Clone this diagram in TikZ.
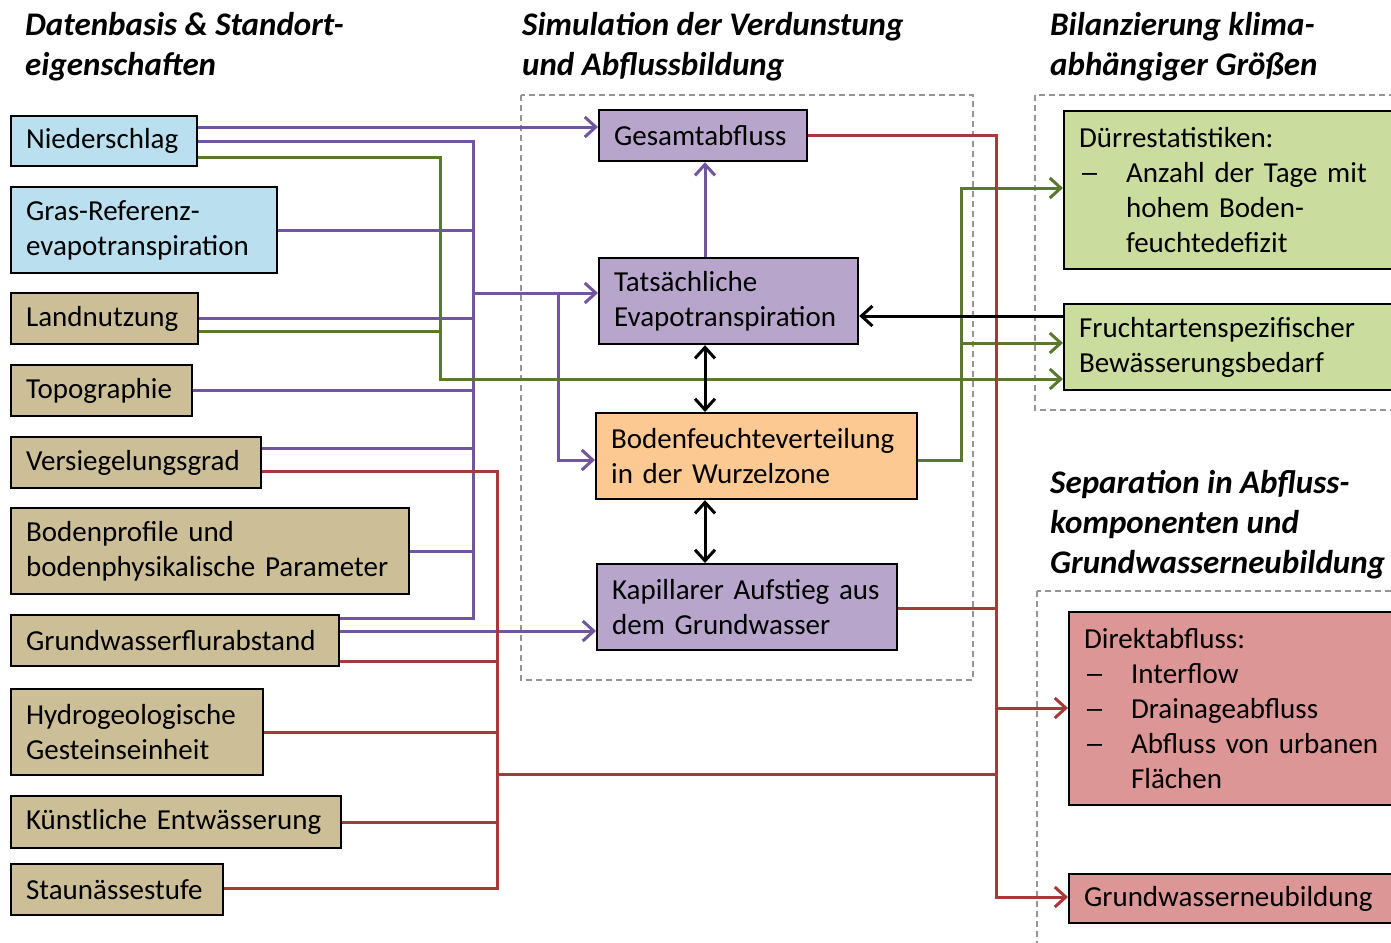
\documentclass[tikz,border=0pt]{standalone}
\usepackage{fontspec}
\usepackage{graphicx}
\setmainfont{Carlito}
\usetikzlibrary{arrows.meta}
\definecolor{cblue}{HTML}{BADFEE}
\definecolor{ctan}{HTML}{CCBF98}
\definecolor{cpurpf}{HTML}{B7A5CB}
\definecolor{corange}{HTML}{FDC993}
\definecolor{cgreenf}{HTML}{CADD9E}
\definecolor{cpinkf}{HTML}{DB9695}
\definecolor{cpurp}{HTML}{6F569E}
\definecolor{cgreen}{HTML}{5A782E}
\definecolor{cred}{HTML}{A53A3A}
\newcommand\nb[1]{\mbox{#1}}
\newcommand\dsh{\makebox[47pt][l]{\scalebox{1.45}[1]{–}}}
\begin{document}
\begin{tikzpicture}[x=1pt,y=-1pt,
  box/.style={draw=black, line width=2.2pt, inner xsep=15pt, inner ysep=0pt, align=left, anchor=north west, font=\fontsize{29}{35}\selectfont},
  head/.style={anchor=north west, inner sep=0pt, align=left, font=\fontsize{33}{40}\selectfont\bfseries\itshape},
  dashframe/.style={draw=black!42, dash pattern=on 6pt off 4pt, line width=1.5pt},
  pl/.style={draw=cpurp, line width=3pt},
  gl/.style={draw=cgreen, line width=3pt},
  rl/.style={draw=cred, line width=3pt},
  bl/.style={draw=black, line width=3pt},
  arr/.style={-{Straight Barb[length=11pt,width=20pt]}},
  darr/.style={{Straight Barb[length=11pt,width=20pt]}-{Straight Barb[length=11pt,width=20pt]}},
]
\clip (0,0) rectangle (1391,942);
\fill[white] (0,0) rectangle (1391,942);

% dashed frames
\draw[dashframe] (521,95) rectangle (973,680);
\draw[dashframe] (1035,95) rectangle (1430,410);
\draw[dashframe] (1037,591) rectangle (1430,970);

% headings
\node[head] (h1) at (25,12) {Datenbasis \& Standort-\\eigenschaften};
\node[head] (h2) at (522,12) {Simulation der Verdunstung\\und Abflussbildung};
\node[head] (h3) at (1050,12) {Bilanzierung klima-\\abhängiger Größen};
\node[head] (h4) at (1050,470) {Separation in Abfluss-\\komponenten und\\Grundwasserneubildung};

% left inputs
\node[box, fill=cblue, text width=156pt, minimum height=50pt] (nied) at (10,115) {\nb{Niederschlag}};
\node[box, fill=cblue, text width=236pt, minimum height=86pt] (gras) at (10,186) {\nb{Gras-Referenz-}\\\nb{evapotranspiration}};
\node[box, fill=ctan, text width=157pt, minimum height=51pt] (land) at (10,292) {\nb{Landnutzung}};
\node[box, fill=ctan, text width=151pt, minimum height=51pt] (topo) at (10,364) {\nb{Topographie}};
\node[box, fill=ctan, text width=220pt, minimum height=51pt] (vers) at (10,436) {\nb{Versiegelungsgrad}};
\node[box, fill=ctan, text width=368pt, minimum height=86pt] (bode) at (10,507) {\nb{Bodenprofile und}\\\nb{bodenphysikalische Parameter}};
\node[box, fill=ctan, text width=298pt, minimum height=51pt] (gwfa) at (10,614) {\nb{Grundwasserflurabstand}};
\node[box, fill=ctan, text width=222pt, minimum height=86pt] (hydr) at (10,688) {\nb{Hydrogeologische}\\\nb{Gesteinseinheit}};
\node[box, fill=ctan, text width=300pt, minimum height=52pt] (kuen) at (10,795) {\nb{Künstliche Entwässerung}};
\node[box, fill=ctan, text width=182pt, minimum height=51pt] (stau) at (10,863) {\nb{Staunässestufe}};

% simulation
\node[box, fill=cpurpf, text width=178pt, minimum height=51pt] (ges) at (598,109) {\nb{Gesamtabfluss}};
\node[box, fill=cpurpf, text width=229pt, minimum height=86pt] (tats) at (598,257) {\nb{Tatsächliche}\\\nb{Evapotranspiration}};
\node[box, fill=corange, text width=291pt, minimum height=86pt] (bofe) at (595,412) {\nb{Bodenfeuchteverteilung}\\\nb{in der Wurzelzone}};
\node[box, fill=cpurpf, text width=270pt, minimum height=86pt] (kapi) at (596,563) {\nb{Kapillarer Aufstieg aus}\\\nb{dem Grundwasser}};

% balance
\node[box, fill=cgreenf, text width=340pt, minimum height=158pt] (duer) at (1063,110) {\nb{Dürrestatistiken:}\\\nb{\dsh Anzahl der Tage mit}\\\nb{\hspace*{47pt}hohem Boden-}\\\nb{\hspace*{47pt}feuchtedefizit}};
\node[box, fill=cgreenf, text width=340pt, minimum height=86pt] (frucht) at (1063,303) {\nb{Fruchtartenspezifischer}\\\nb{Bewässerungsbedarf}};

% separation
\node[box, fill=cpinkf, text width=340pt, minimum height=193pt] (direkt) at (1068,611) {\nb{Direktabfluss:}\\\nb{\dsh Interflow}\\\nb{\dsh Drainageabfluss}\\\nb{\dsh Abfluss von urbanen}\\\nb{\hspace*{47pt}Flächen}};
\node[box, fill=cpinkf, text width=340pt, minimum height=49pt] (gwn) at (1068,873) {\nb{Grundwasserneubildung}};

% bus x positions
\coordinate (xp) at (473,0);
\coordinate (xq) at (558,0);
\coordinate (xg) at (440,0);
\coordinate (xc) at (705,0);
\coordinate (xg2) at (961,0);
\coordinate (xr) at (497,0);
\coordinate (xr2) at (996,0);

% purple connectors
\draw[pl,arr] (nied.east |- 0,127) -- (ges.west |- 0,127);
\draw[pl] (nied.east |- 0,141) -- (xp |- 0,141) -- (xp |- 0,618) -- (gwfa.east |- 0,618);
\draw[pl] (gras.east) -- (gras.east -| xp);
\draw[pl] (land.east |- 0,318) -- (xp |- 0,318);
\draw[pl] (topo.east) -- (topo.east -| xp);
\draw[pl] (vers.east |- 0,448) -- (xp |- 0,448);
\draw[pl] (bode.east) -- (bode.east -| xp);
\draw[pl,arr] (xp |- 0,293) -- (tats.west |- 0,293);
\draw[pl,arr] (xq |- 0,293) |- (bofe.west |- 0,460);
\draw[pl,arr] (gwfa.east |- 0,631) -- (kapi.west |- 0,631);
\draw[pl,arr] (tats.north -| xc) -- (ges.south -| xc);

% green connectors
\draw[gl,arr] (nied.east |- 0,157) -| (xg |- 0,379) -- (frucht.west |- 0,379);
\draw[gl] (land.east |- 0,331) -- (xg |- 0,331);
\draw[gl,arr] (bofe.east |- 0,460) -| (xg2 |- 0,188) -- (duer.west |- 0,188);
\draw[gl,arr] (xg2 |- 0,343) -- (frucht.west |- 0,343);

% red connectors
\draw[rl,arr] (ges.east) -| (xr2 |- 0,897) -- (gwn.west |- 0,897);
\draw[rl,arr] (xr2 |- 0,708) -- (direkt.west |- 0,708);
\draw[rl] (kapi.east |- 0,608) -- (xr2 |- 0,608);
\draw[rl] (vers.east |- 0,471) -| (xr |- 0,888) -- (stau.east |- 0,888);
\draw[rl] (gwfa.east |- 0,661) -- (xr |- 0,661);
\draw[rl] (hydr.east) -- (hydr.east -| xr);
\draw[rl] (kuen.east) -- (kuen.east -| xr);
\draw[rl] (xr |- 0,774) -- (xr2 |- 0,774);

% black connectors
\draw[bl,arr] (frucht.west |- 0,316) -- (tats.east |- 0,316);
\draw[bl,darr] (tats.south -| xc) -- (bofe.north -| xc);
\draw[bl,darr] (bofe.south -| xc) -- (kapi.north -| xc);
\end{tikzpicture}
\end{document}
